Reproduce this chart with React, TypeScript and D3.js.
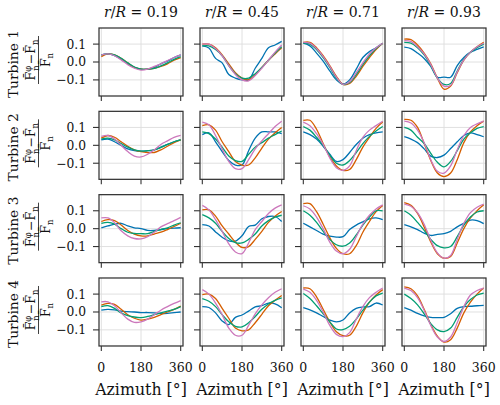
import React from "react";
import * as d3 from "d3";

// Azimuth sample positions in degrees
const AZIMUTH = [0, 30, 60, 90, 120, 150, 180, 210, 240, 270, 300, 330, 360];
const RADII = ["0.19", "0.45", "0.71", "0.93"];
const TURBINES = ["Turbine 1", "Turbine 2", "Turbine 3", "Turbine 4"];
const SERIES_COLORS = ["#0173b2", "#d55e00", "#029e73", "#cc78bc"];
const X_TICKS = [0, 180, 360];
const Y_TICKS = [-0.1, 0.0, 0.1];

// Normalised azimuthal load deviation, one block per r/R, four series each
const TURBINE_1 = [
  [
    [0.04, 0.045, 0.035, 0.015, -0.01, -0.03, -0.04, -0.04, -0.03, -0.01, 0.005, 0.025, 0.04],
    [0.03, 0.045, 0.04, 0.02, -0.005, -0.03, -0.04, -0.04, -0.035, -0.025, -0.01, 0.01, 0.025],
    [0.04, 0.045, 0.04, 0.02, -0.005, -0.028, -0.04, -0.04, -0.035, -0.022, -0.005, 0.015, 0.03],
    [0.04, 0.045, 0.035, 0.012, -0.015, -0.035, -0.045, -0.04, -0.025, -0.01, 0.008, 0.025, 0.04],
  ],
  [
    [0.09, 0.078, 0.02, -0.005, -0.07, -0.09, -0.1, -0.1, -0.035, 0.02, 0.08, 0.095, 0.115],
    [0.1, 0.1, 0.08, 0.04, -0.01, -0.06, -0.09, -0.1, -0.07, -0.03, 0.01, 0.045, 0.08],
    [0.09, 0.09, 0.07, 0.035, -0.02, -0.065, -0.09, -0.09, -0.065, -0.03, 0.01, 0.05, 0.085],
    [0.1, 0.1, 0.075, 0.035, -0.02, -0.07, -0.1, -0.105, -0.075, -0.035, 0.01, 0.055, 0.095],
  ],
  [
    [0.105, 0.09, 0.05, 0.005, -0.05, -0.1, -0.123, -0.1, -0.04, 0.025, 0.058, 0.08, 0.105],
    [0.11, 0.11, 0.08, 0.035, -0.02, -0.08, -0.125, -0.12, -0.08, -0.025, 0.025, 0.07, 0.105],
    [0.105, 0.1, 0.07, 0.025, -0.03, -0.09, -0.125, -0.115, -0.07, -0.015, 0.035, 0.075, 0.105],
    [0.11, 0.105, 0.075, 0.03, -0.025, -0.085, -0.125, -0.11, -0.06, -0.005, 0.045, 0.08, 0.105],
  ],
  [
    [0.083, 0.075, 0.05, 0.02, -0.025, -0.085, -0.085, -0.085, -0.02, 0.025, 0.055, 0.07, 0.085],
    [0.128, 0.125, 0.095, 0.05, -0.01, -0.09, -0.152, -0.135, -0.06, 0.01, 0.055, 0.085, 0.11],
    [0.11, 0.105, 0.08, 0.04, -0.02, -0.09, -0.125, -0.12, -0.05, 0.015, 0.055, 0.08, 0.1],
    [0.12, 0.115, 0.085, 0.045, -0.015, -0.09, -0.135, -0.13, -0.055, 0.012, 0.055, 0.085, 0.105],
  ],
];

const TURBINE_2 = [
  [
    [0.03, 0.035, 0.02, 0.0, -0.02, -0.03, -0.033, -0.03, -0.025, -0.01, 0.005, 0.02, 0.03],
    [0.04, 0.055, 0.045, 0.02, -0.005, -0.025, -0.035, -0.04, -0.04, -0.025, -0.005, 0.015, 0.03],
    [0.035, 0.04, 0.03, 0.01, -0.01, -0.025, -0.032, -0.03, -0.025, -0.012, 0.005, 0.02, 0.03],
    [0.05, 0.055, 0.035, 0.0, -0.035, -0.06, -0.065, -0.05, -0.025, 0.005, 0.025, 0.045, 0.055],
  ],
  [
    [0.06, 0.07, 0.02, -0.035, -0.085, -0.11, -0.11, -0.03, 0.04, 0.075, 0.075, 0.075, 0.065],
    [0.11, 0.115, 0.085, 0.02, -0.035, -0.09, -0.11, -0.11, -0.07, -0.015, 0.035, 0.07, 0.1],
    [0.075, 0.065, 0.035, -0.01, -0.06, -0.085, -0.09, -0.05, -0.01, 0.015, 0.04, 0.06, 0.08],
    [0.13, 0.115, 0.055, -0.02, -0.09, -0.13, -0.13, -0.08, -0.02, 0.025, 0.065, 0.105, 0.135],
  ],
  [
    [0.075, 0.06, 0.035, -0.005, -0.05, -0.09, -0.08, -0.04, 0.005, 0.04, 0.06, 0.07, 0.075],
    [0.14, 0.14, 0.09, 0.01, -0.065, -0.115, -0.14, -0.135, -0.08, -0.01, 0.045, 0.095, 0.13],
    [0.105, 0.085, 0.045, 0.0, -0.055, -0.1, -0.11, -0.085, -0.04, 0.01, 0.05, 0.08, 0.105],
    [0.13, 0.11, 0.065, 0.005, -0.07, -0.125, -0.14, -0.115, -0.03, 0.045, 0.085, 0.11, 0.135],
  ],
  [
    [0.048, 0.035, 0.015, -0.02, -0.06, -0.068, -0.055, -0.018, 0.02, 0.055, 0.07, 0.06, 0.048],
    [0.145, 0.14, 0.1, 0.01, -0.085, -0.155, -0.175, -0.155, -0.08, 0.015, 0.075, 0.11, 0.135],
    [0.1, 0.085, 0.045, 0.01, -0.045, -0.095, -0.12, -0.09, -0.03, 0.035, 0.07, 0.095, 0.105],
    [0.135, 0.125, 0.085, 0.015, -0.08, -0.145, -0.155, -0.115, -0.025, 0.055, 0.1, 0.12, 0.135],
  ],
];

const TURBINE_3 = [
  [
    [0.005, 0.015, 0.025, 0.03, 0.015, 0.005, 0.0, -0.01, -0.01, -0.005, 0.0, 0.003, 0.005],
    [0.04, 0.05, 0.045, 0.02, -0.01, -0.03, -0.04, -0.04, -0.03, -0.02, -0.005, 0.012, 0.03],
    [0.03, 0.035, 0.025, 0.0, -0.02, -0.027, -0.028, -0.028, -0.015, -0.005, 0.005, 0.02, 0.033],
    [0.06, 0.06, 0.033, -0.012, -0.04, -0.055, -0.057, -0.045, -0.02, 0.01, 0.028, 0.045, 0.063],
  ],
  [
    [0.022, 0.015, -0.018, -0.048, -0.068, -0.07, -0.04, 0.012, 0.02, 0.055, 0.068, 0.068, 0.04],
    [0.105, 0.105, 0.07, 0.015, -0.03, -0.075, -0.105, -0.1, -0.06, -0.015, 0.035, 0.07, 0.096],
    [0.078, 0.06, 0.03, -0.015, -0.055, -0.078, -0.08, -0.06, -0.03, 0.015, 0.045, 0.065, 0.075],
    [0.13, 0.105, 0.05, -0.015, -0.085, -0.13, -0.14, -0.08, -0.005, 0.04, 0.085, 0.115, 0.133],
  ],
  [
    [0.03, 0.01, -0.01, -0.03, -0.042, -0.047, -0.045, -0.005, 0.02, 0.038, 0.055, 0.06, 0.05],
    [0.14, 0.14, 0.095, 0.025, -0.05, -0.11, -0.14, -0.14, -0.095, -0.02, 0.04, 0.095, 0.13],
    [0.1, 0.075, 0.035, -0.015, -0.06, -0.09, -0.098, -0.08, -0.035, 0.02, 0.065, 0.1, 0.1],
    [0.128, 0.11, 0.065, 0.0, -0.075, -0.125, -0.14, -0.115, -0.045, 0.025, 0.075, 0.11, 0.133],
  ],
  [
    [0.022, 0.01, -0.005, -0.025, -0.038, -0.032, -0.028, -0.015, 0.01, 0.03, 0.048, 0.045, 0.028],
    [0.145, 0.13, 0.085, 0.01, -0.075, -0.14, -0.165, -0.155, -0.08, 0.0, 0.06, 0.1, 0.133],
    [0.1, 0.075, 0.035, -0.01, -0.06, -0.095, -0.107, -0.1, -0.045, 0.02, 0.065, 0.093, 0.1],
    [0.137, 0.125, 0.09, 0.025, -0.065, -0.135, -0.165, -0.15, -0.06, 0.03, 0.09, 0.12, 0.137],
  ],
];

const TURBINE_4 = [
  [
    [0.01, 0.015, 0.012, 0.005, 0.002, 0.0, -0.003, -0.003, -0.005, -0.008, -0.008, -0.004, 0.0],
    [0.038, 0.048, 0.042, 0.015, -0.015, -0.035, -0.045, -0.04, -0.03, -0.015, 0.0, 0.015, 0.033],
    [0.03, 0.035, 0.02, -0.005, -0.02, -0.028, -0.031, -0.025, -0.015, -0.005, 0.005, 0.015, 0.03],
    [0.057, 0.057, 0.035, -0.005, -0.04, -0.058, -0.055, -0.04, -0.015, 0.01, 0.03, 0.048, 0.064],
  ],
  [
    [0.03, 0.025, -0.005, -0.05, -0.07, -0.03, -0.017, 0.005, 0.028, 0.035, 0.05, 0.045, 0.024],
    [0.097, 0.1, 0.075, 0.02, -0.035, -0.09, -0.105, -0.1, -0.06, -0.013, 0.035, 0.065, 0.092],
    [0.075, 0.06, 0.03, -0.015, -0.055, -0.08, -0.083, -0.06, -0.025, 0.015, 0.045, 0.065, 0.079],
    [0.125, 0.1, 0.05, -0.015, -0.09, -0.13, -0.13, -0.075, -0.01, 0.04, 0.08, 0.11, 0.13],
  ],
  [
    [0.024, 0.012, -0.005, -0.025, -0.045, -0.055, -0.045, -0.005, 0.02, 0.028, 0.03, 0.05, 0.039],
    [0.134, 0.13, 0.085, 0.015, -0.055, -0.11, -0.132, -0.13, -0.08, -0.005, 0.055, 0.095, 0.125],
    [0.103, 0.075, 0.035, -0.01, -0.055, -0.095, -0.098, -0.08, -0.04, 0.01, 0.055, 0.09, 0.106],
    [0.128, 0.11, 0.065, 0.0, -0.075, -0.125, -0.138, -0.115, -0.04, 0.03, 0.08, 0.11, 0.134],
  ],
  [
    [0.024, 0.01, -0.008, -0.022, -0.03, -0.031, -0.03, -0.01, 0.02, 0.03, 0.032, 0.035, 0.037],
    [0.14, 0.13, 0.09, 0.015, -0.07, -0.135, -0.168, -0.155, -0.09, -0.005, 0.055, 0.1, 0.134],
    [0.1, 0.075, 0.04, -0.01, -0.065, -0.1, -0.11, -0.09, -0.03, 0.03, 0.07, 0.095, 0.106],
    [0.134, 0.12, 0.08, 0.01, -0.075, -0.14, -0.165, -0.14, -0.06, 0.03, 0.095, 0.12, 0.134],
  ],
];

const ALL_TURBINES = [TURBINE_1, TURBINE_2, TURBINE_3, TURBINE_4];

const W = 500;
const H = 405;
const PANEL_W = 84;
const PANEL_H = 68;
const COL_X0 = 99;
const COL_STEP = 101;
const ROW_Y0 = 28;
const ROW_STEP = 83.33;
const FONT = "DejaVu Serif";
const INK = "#111111";
const SPINE = "#333333";
const GRID = "#dddddd";

const x = d3.scaleLinear().domain([-10.5, 370.5]).range([0, PANEL_W]);
const y = d3.scaleLinear().domain([-0.19, 0.19]).range([PANEL_H, 0]);

const line = d3
  .line<number>()
  .x((_, i) => x(AZIMUTH[i]))
  .y((v) => y(v))
  .curve(d3.curveCatmullRom.alpha(0.5));

function Panel({ series, row, col }: { series: number[][]; row: number; col: number }) {
  const left = COL_X0 + col * COL_STEP;
  const top = ROW_Y0 + row * ROW_STEP;
  const clipId = `clip-${row}-${col}`;
  return (
    <g transform={`translate(${left},${top})`}>
      <defs>
        <clipPath id={clipId}>
          <rect x={0} y={0} width={PANEL_W} height={PANEL_H} />
        </clipPath>
      </defs>
      {X_TICKS.map((t) => (
        <line key={`gx${t}`} x1={x(t)} x2={x(t)} y1={0} y2={PANEL_H} stroke={GRID} strokeWidth={0.9} />
      ))}
      {Y_TICKS.map((t) => (
        <line key={`gy${t}`} x1={0} x2={PANEL_W} y1={y(t)} y2={y(t)} stroke={GRID} strokeWidth={0.9} />
      ))}
      <g clipPath={`url(#${clipId})`}>
        {series.map((vals, k) => (
          <path
            key={k}
            d={line(vals) ?? ""}
            fill="none"
            stroke={SERIES_COLORS[k]}
            strokeWidth={1.3}
            strokeLinejoin="round"
          />
        ))}
      </g>
      <rect x={0} y={0} width={PANEL_W} height={PANEL_H} fill="none" stroke={SPINE} strokeWidth={1.25} />
      {X_TICKS.map((t) => (
        <line key={`tx${t}`} x1={x(t)} x2={x(t)} y1={PANEL_H} y2={PANEL_H + 5} stroke={SPINE} strokeWidth={1.1} />
      ))}
      {Y_TICKS.map((t) => (
        <line key={`ty${t}`} x1={-6} x2={0} y1={y(t)} y2={y(t)} stroke={SPINE} strokeWidth={1.1} />
      ))}
      {col === 0 &&
        Y_TICKS.map((t) => (
          <text
            key={`ly${t}`}
            x={-13}
            y={y(t)}
            dy="0.36em"
            textAnchor="end"
            fontSize={12.3}
            fill={INK}
          >
            {t < 0 ? `\u2212${Math.abs(t).toFixed(1)}` : t.toFixed(1)}
          </text>
        ))}
      {row === 3 &&
        X_TICKS.map((t) => (
          <text key={`lx${t}`} x={x(t)} y={PANEL_H + 26} textAnchor="middle" fontSize={12.5} fill={INK}>
            {t}
          </text>
        ))}
    </g>
  );
}

function RowLabel({ label, row }: { label: string; row: number }) {
  const cy = ROW_Y0 + row * ROW_STEP + PANEL_H / 2;
  return (
    <g fill={INK}>
      <text transform={`translate(18,${cy + 2}) rotate(-90)`} textAnchor="middle" fontSize={13.8}>
        {label}
      </text>
      <g transform={`translate(38.5,${cy - 2}) rotate(-90)`}>
        <text y={-3.5} textAnchor="middle" fontSize={12.5}>
          <tspan>{"F\u0304"}</tspan>
          <tspan fontSize={8.5} dy={-4.5}>{"\u03c6"}</tspan>
          <tspan fontSize={8.5} dx={-5} dy={8}>n</tspan>
          <tspan dx={1} dy={-3.5}>{"\u2212F\u0304"}</tspan>
          <tspan fontSize={8.5} dy={2.5}>n</tspan>
        </text>
        <line x1={-24} x2={24} y1={0} y2={0} stroke={INK} strokeWidth={0.8} />
        <text y={11.5} textAnchor="middle" fontSize={12.5}>
          <tspan>{"F\u0304"}</tspan>
          <tspan fontSize={8.5} dy={2.5}>n</tspan>
        </text>
      </g>
    </g>
  );
}

export default function App() {
  return (
    <svg
      width={W}
      height={H}
      viewBox={`0 0 ${W} ${H}`}
      style={{ position: "absolute", left: 0, top: 0, background: "#fff", fontFamily: FONT }}
    >
      <rect width={W} height={H} fill="#fff" />
      {RADII.map((r, c) => (
        <text
          key={`t${r}`}
          x={COL_X0 + c * COL_STEP + PANEL_W / 2}
          y={17}
          textAnchor="middle"
          fontSize={14}
          fill={INK}
        >
          <tspan fontStyle="italic">r</tspan>
          <tspan>/</tspan>
          <tspan fontStyle="italic">R</tspan>
          <tspan>{` = ${r}`}</tspan>
        </text>
      ))}
      {TURBINES.map((t, r) => (
        <RowLabel key={t} label={t} row={r} />
      ))}
      {ALL_TURBINES.map((turbine, r) =>
        turbine.map((series, c) => <Panel key={`${r}-${c}`} series={series} row={r} col={c} />)
      )}
      {RADII.map((r, c) => (
        <text
          key={`a${r}`}
          x={COL_X0 + c * COL_STEP + PANEL_W / 2}
          y={395}
          textAnchor="middle"
          fontSize={15.8}
          fill={INK}
        >
          Azimuth [°]
        </text>
      ))}
    </svg>
  );
}
